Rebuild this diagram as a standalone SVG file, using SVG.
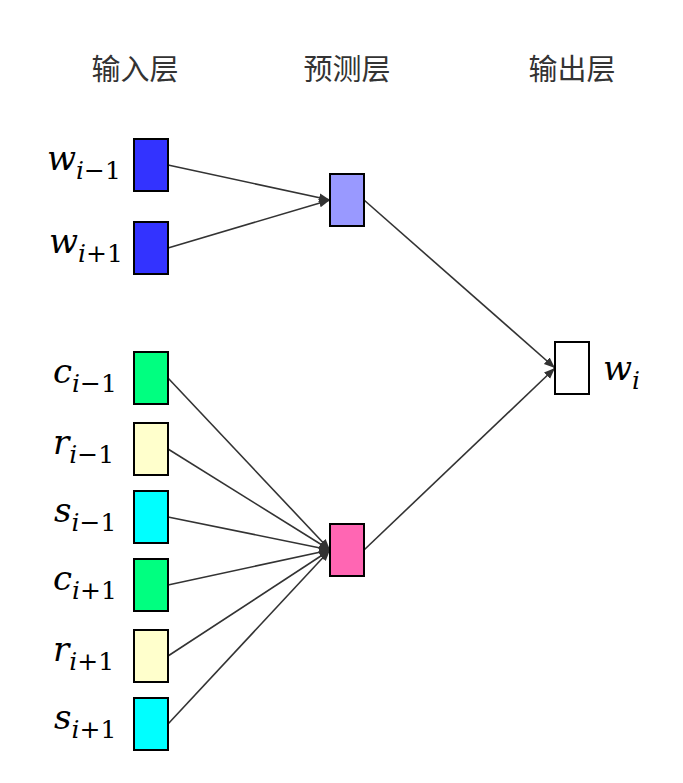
<svg xmlns="http://www.w3.org/2000/svg" width="683" height="783" viewBox="0 0 683 783">
<style>
.hd{font-family:"Noto Sans CJK SC","Noto Sans",sans-serif;font-size:29px;fill:#333;text-anchor:middle}
.m{font-family:'DejaVu Serif',serif;font-size:34px;fill:#000}
.it{font-style:italic}
.sb{font-size:25px}
.bx{stroke:#000;stroke-width:2}
.ln{stroke:#333;stroke-width:1.6;fill:none;marker-end:url(#ah)}
</style>
<defs>
<marker id="ah" viewBox="0 0 10 10" refX="10" refY="5" markerWidth="11" markerHeight="11" markerUnits="userSpaceOnUse" orient="auto">
<path d="M0,1 L10,5 L0,9 Z" fill="#333"/>
</marker>
</defs>
<rect width="683" height="783" fill="#fff"/>
<g id="headers">
<text class="hd" x="135" y="80">输入层</text>
<text class="hd" x="347" y="80">预测层</text>
<text class="hd" x="572" y="80">输出层</text>
</g>
<g id="connectors">
<line class="ln" x1="168" y1="165" x2="330" y2="200"/>
<line class="ln" x1="168" y1="248" x2="330" y2="200"/>
<line class="ln" x1="168" y1="378" x2="330" y2="550"/>
<line class="ln" x1="168" y1="449" x2="330" y2="550"/>
<line class="ln" x1="168" y1="517" x2="330" y2="550"/>
<line class="ln" x1="168" y1="585" x2="330" y2="550"/>
<line class="ln" x1="168" y1="656" x2="330" y2="550"/>
<line class="ln" x1="168" y1="724" x2="330" y2="550"/>
<line class="ln" x1="364" y1="200" x2="555" y2="368"/>
<line class="ln" x1="364" y1="550" x2="555" y2="368"/>
</g>
<g id="n_w_im1"><rect class="bx" x="134" y="139" width="34" height="52" fill="#3333ff"/>
<text class="m" x="47" y="170"><tspan class="it">w</tspan><tspan class="sb" dy="9"><tspan class="it">i</tspan>−1</tspan></text></g>
<g id="n_w_ip1"><rect class="bx" x="134" y="222" width="34" height="52" fill="#3333ff"/>
<text class="m" x="49" y="253"><tspan class="it">w</tspan><tspan class="sb" dy="9"><tspan class="it">i</tspan>+1</tspan></text></g>
<g id="n_c_im1"><rect class="bx" x="134" y="352" width="34" height="52" fill="#00ff80"/>
<text class="m" x="53" y="383"><tspan class="it">c</tspan><tspan class="sb" dy="9"><tspan class="it">i</tspan>−1</tspan></text></g>
<g id="n_r_im1"><rect class="bx" x="134" y="423" width="34" height="52" fill="#ffffcc"/>
<text class="m" x="53" y="454"><tspan class="it">r</tspan><tspan class="sb" dy="9"><tspan class="it">i</tspan>−1</tspan></text></g>
<g id="n_s_im1"><rect class="bx" x="134" y="491" width="34" height="52" fill="#00ffff"/>
<text class="m" x="54" y="522"><tspan class="it">s</tspan><tspan class="sb" dy="9"><tspan class="it">i</tspan>−1</tspan></text></g>
<g id="n_c_ip1"><rect class="bx" x="134" y="559" width="34" height="52" fill="#00ff80"/>
<text class="m" x="53" y="590"><tspan class="it">c</tspan><tspan class="sb" dy="9"><tspan class="it">i</tspan>+1</tspan></text></g>
<g id="n_r_ip1"><rect class="bx" x="134" y="630" width="34" height="52" fill="#ffffcc"/>
<text class="m" x="53" y="661"><tspan class="it">r</tspan><tspan class="sb" dy="9"><tspan class="it">i</tspan>+1</tspan></text></g>
<g id="n_s_ip1"><rect class="bx" x="134" y="698" width="34" height="52" fill="#00ffff"/>
<text class="m" x="54" y="729"><tspan class="it">s</tspan><tspan class="sb" dy="9"><tspan class="it">i</tspan>+1</tspan></text></g>
<g id="n_pred1"><rect class="bx" x="330" y="174" width="34" height="52" fill="#9999ff"/></g>
<g id="n_pred2"><rect class="bx" x="330" y="524" width="34" height="52" fill="#ff66b3"/></g>
<g id="n_out"><rect class="bx" x="555" y="342" width="34" height="52" fill="#ffffff"/>
<text class="m" x="603" y="380"><tspan class="it">w</tspan><tspan class="sb it" dy="9">i</tspan></text></g>
</svg>
